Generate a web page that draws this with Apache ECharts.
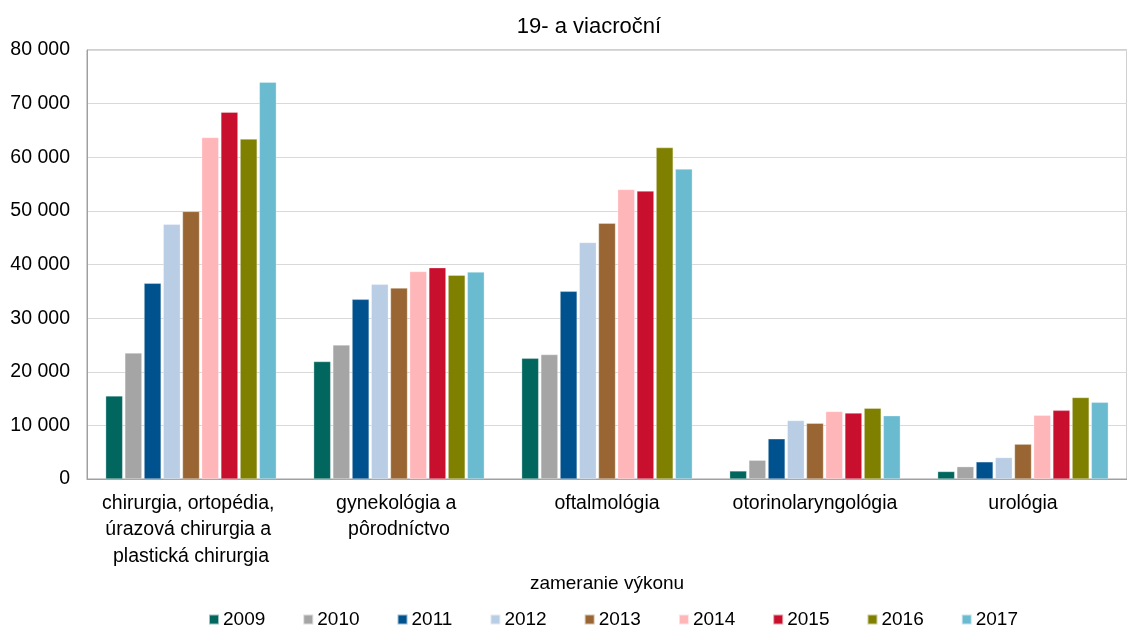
<!DOCTYPE html>
<html><head><meta charset="utf-8">
<script src="https://cdn.jsdelivr.net/npm/echarts@6/dist/echarts.min.js"></script>
<style>html,body{margin:0;padding:0;background:#fff}#c{width:1127px;height:629px}</style>
</head><body><div id="c"></div>
<script>
const categories = ['chirurgia, ortopédia, úrazová chirurgia a plastická chirurgia','gynekológia a pôrodníctvo','oftalmológia','otorinolaryngológia','urológia'];
const years = ['2009','2010','2011','2012','2013','2014','2015','2016','2017'];
const v2009 = [15500, 21900, 22500, 1500, 1400];
const v2010 = [23500, 25000, 23200, 3500, 2300];
const v2011 = [36500, 33500, 35000, 7500, 3200];
const v2012 = [47500, 36300, 44100, 10900, 4000];
const v2013 = [49900, 35600, 47700, 10400, 6500];
const v2014 = [63700, 38700, 54000, 12600, 11900];
const v2015 = [68400, 39400, 53700, 12300, 12800];
const v2016 = [63400, 38000, 61800, 13200, 15200];
const v2017 = [74000, 38600, 57800, 11800, 14300];
const yTicks = [0, 10000, 20000, 30000, 40000, 50000, 60000, 70000, 80000];
const seriesValues = [v2009, v2010, v2011, v2012, v2013, v2014, v2015, v2016, v2017];
const colors = ['#00665E','#A5A5A5','#00528F','#B9CDE5','#996633','#FFB6B9','#C8102E','#808000','#6BBBD0'];
const FONT = 'Liberation Sans, Arial, sans-serif';

const chart = echarts.init(document.getElementById('c'));
chart.setOption({
  animation: false,
  color: colors,
  title: { text: '19- a viacroční', left: 584, top: 11, textAlign: 'center',
    textStyle: { fontFamily: FONT, fontSize: 22, fontWeight: 'normal', color: '#000' } },
  legend: { left: 203, top: 605, itemWidth: 10, itemHeight: 10, itemGap: 37, icon: 'rect',
    textStyle: { fontFamily: FONT, fontSize: 19, color: '#000', padding: [0,0,0,-1] }, data: years },
  grid: { left: 87, top: 50, width: 1045, height: 429, show: true, borderColor: '#a0a0a0', borderWidth: 1 },
  xAxis: { type: 'category', data: categories,
    name: 'zameranie výkonu', nameLocation: 'middle', nameGap: 92,
    nameTextStyle: { fontFamily: FONT, fontSize: 19, color: '#000' },
    axisLine: { lineStyle: { color: '#a0a0a0' } }, axisTick: { show: false },
    axisLabel: { interval: 0, margin: 11, width: 200, overflow: 'break', lineHeight: 26.5,
      fontFamily: FONT, fontSize: 19.5, color: '#000' } },
  yAxis: { type: 'value', min: 0, max: 80000, interval: 10000,
    axisLine: { show: true, lineStyle: { color: '#a0a0a0' } }, axisTick: { show: false },
    splitLine: { lineStyle: { color: '#d9d9d9' } },
    axisLabel: { margin: 17, fontFamily: FONT, fontSize: 19.5, color: '#000',
      formatter: v => yTicks.includes(v) ? String(v).replace(/\B(?=(\d{3})+(?!\d))/g, ' ') : '' } },
  series: years.map((y, i) => ({ name: y, type: 'bar', data: seriesValues[i], barWidth: 17, barGap: '13%',
    itemStyle: { borderColor: 'rgba(255,255,255,0.6)', borderWidth: 0.5 } }))
});
</script></body></html>
